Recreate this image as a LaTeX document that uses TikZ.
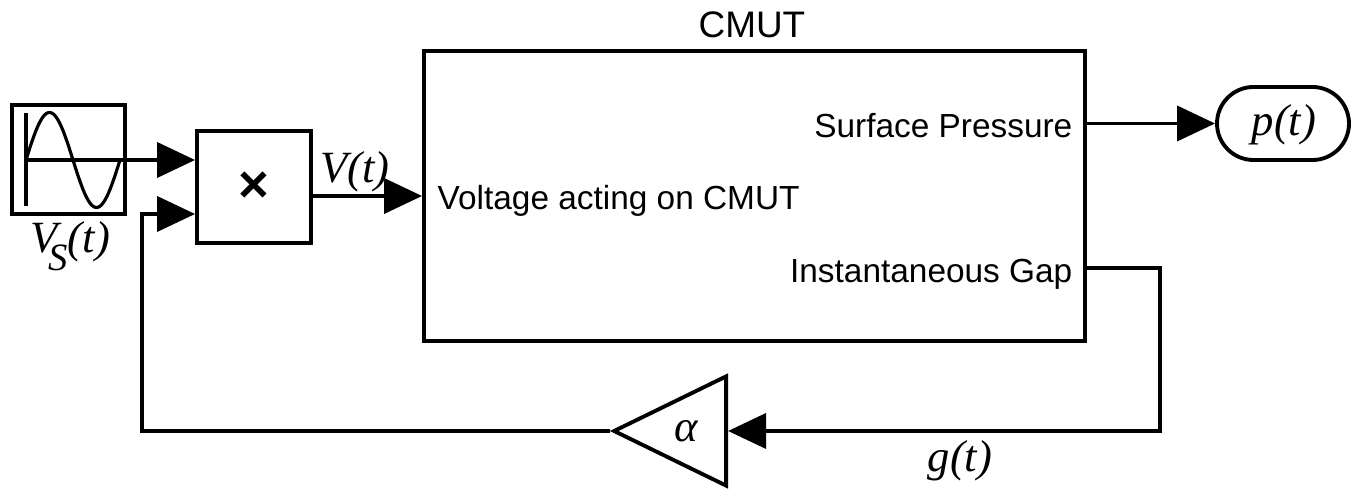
\documentclass[tikz,border=0pt]{standalone}
\usepackage{fontspec}
\setmainfont{Liberation Sans}
\newfontfamily\sigfont{Liberation Serif}
\usetikzlibrary{arrows.meta,positioning,calc}
\usetikzlibrary{shapes.geometric,shapes.misc}
\tikzset{
	block/.style={draw,line width=1.1pt,inner sep=0pt,fill=white},
	sig/.style={line width=1.1pt,-{Triangle[length=3.8mm,width=3.5mm]}},
	portlabel/.style={font=\fontsize{9.5}{11}\selectfont,inner sep=0pt},
	siglabel/.style={font=\fontsize{12.7}{15}\selectfont\sigfont\itshape,inner sep=0pt},
}
\begin{document}
\begin{tikzpicture}
	\useasboundingbox (0,0) rectangle (13.59,4.91);
	% blocks
	\node[block,minimum width=1.13cm,minimum height=1.09cm] (source) at (0.685,3.315) {};
	\node[block,minimum width=1.14cm,minimum height=1.12cm,font=\fontsize{15}{15}\selectfont\bfseries] (prod) at (2.54,3.04) {×};
	\node[block,minimum width=6.61cm,minimum height=2.90cm] (cmut) at (7.545,2.95) {};
	\node[block,rounded rectangle,minimum width=1.32cm,minimum height=0.73cm] (output) at (12.83,3.675) {};
	\node[siglabel] at (12.84,3.66) {p(t)};
	\node[block,isosceles triangle,isosceles triangle apex angle=52,shape border rotate=180,minimum height=1.12cm] (gain) at (6.92,0.60) {};
	\node[siglabel] (alpha) at (6.86,0.60) {α};
	% labels
	\node[font=\fontsize{10.5}{12}\selectfont,inner sep=0pt] (title) at (7.52,4.66) {CMUT};
	\node[portlabel,anchor=east] (surf) at (10.73,3.65) {Surface Pressure};
	\node[portlabel,anchor=west] (volt) at (4.37,2.90) {Voltage acting on CMUT};
	\node[portlabel,anchor=east] (inst) at (10.73,2.17) {Instantaneous Gap};
	\node[siglabel] (vs) at (0.70,2.45) {V\kern-.2em\raisebox{-.4em}{\fontsize{11}{13}\selectfont S}(t)};
	\node[siglabel] (vt) at (3.55,3.19) {V(t)};
	\node[siglabel] (gt) at (9.60,0.30) {g(t)};
	% sine wave
	\coordinate (axis) at (0.26,3.31);
	\draw[line width=0.9pt] (0.26,3.78) -- (0.26,2.85);
	\draw[line width=0.9pt,domain=0:0.94,samples=60] plot ({0.26+\x},{3.31+0.475*sin(\x*383)});
	% connectors
	\coordinate (in1) at (prod.west |- axis);
	\coordinate (in2) at ($(prod.west)+(0,-0.27)$);
	\coordinate (vin) at (cmut.west |- 0,2.95);
	\coordinate (gapout) at (cmut.east |- 0,2.23);
	\coordinate (corner1) at (11.60,2.23);
	\coordinate (corner2) at (corner1 |- gain.east);
	\coordinate (corner3) at (1.42,0.60);
	\coordinate (corner4) at (corner3 |- in2);
	\draw[sig] (axis) -- (in1);
	\draw[sig] (prod.east |- vin) -- (vin);
	\draw[sig] (cmut.east |- output) -- (output.west);
	\draw[sig] (gapout) -- (corner1) -- (corner2) -- (gain.east);
	\draw[sig] (gain.west) -- (corner3) -- (corner4) -- (in2);
\end{tikzpicture}
\end{document}
